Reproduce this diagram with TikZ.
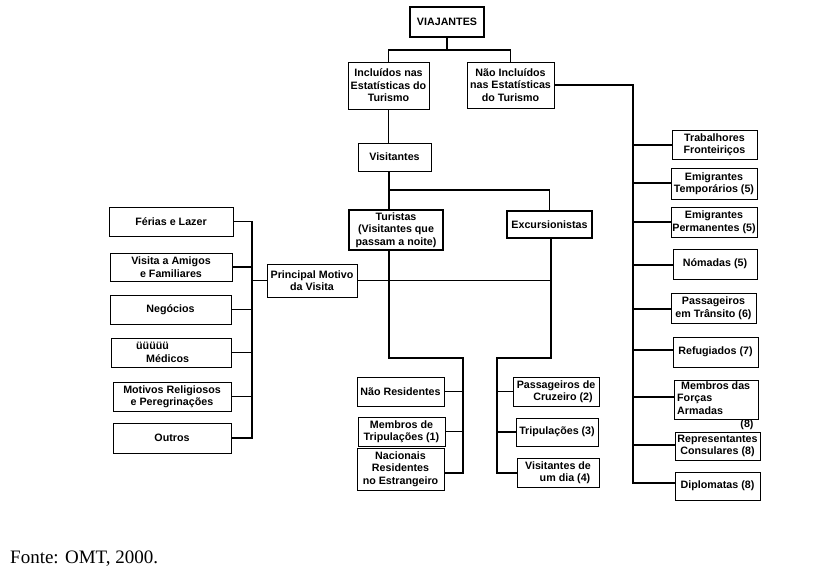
\documentclass[tikz,border=0pt]{standalone}
\usepackage{fontspec}
\setmainfont{Liberation Serif}
\setsansfont{Liberation Sans}
\begin{document}
\begin{tikzpicture}[x=1pt,y=-1pt,
  box/.style={draw=black, line width=1pt, inner sep=0pt, align=center,
    font=\sffamily\bfseries\fontsize{10.7}{12.5}\selectfont},
  thickbox/.style={box, line width=2.6pt},
  conn/.style={draw=black, line width=1.2pt},
  lbl/.style={inner sep=0pt, font=\sffamily\bfseries\fontsize{10.7}{12.5}\selectfont}]
\useasboundingbox[fill=white] (0,0) rectangle (821,584);
% --- top ---
\node[thickbox, minimum width=74pt, minimum height=30pt] (via) at (447,22) {VIAJANTES};
\node[box, minimum width=81pt, minimum height=47pt] (inc) at (388.5,85.5) {Incluídos nas\\Estatísticas do\\Turismo};
\node[box, minimum width=87pt, minimum height=46pt] (nao) at (510.5,85) {Não Incluídos\\nas Estatísticas\\do Turismo};
\node[box, minimum width=73pt, minimum height=28pt] (vis) at (394.5,157) {Visitantes};
\node[thickbox, minimum width=94pt, minimum height=40pt] (tur) at (396,230) {Turistas\\(Visitantes que\\passam a noite)};
\node[thickbox, minimum width=85pt, minimum height=27pt] (exc) at (549.5,224.5) {Excursionistas};
\node[box, minimum width=90pt, minimum height=33pt] (pmv) at (312,280.5) {Principal Motivo\\da Visita};
% --- left column ---
\node[box, minimum width=124pt, minimum height=29pt] (fer) at (171,221.5) {Férias e Lazer};
\node[box, minimum width=122pt, minimum height=28pt] (vam) at (171,267) {Visita a Amigos\\e Familiares};
\node[box, minimum width=121pt, minimum height=29pt] (neg) at (170.5,309.5) {Negócios};
\node[box, minimum width=120pt, minimum height=29pt] (med) at (171,352.5) {};
\node[lbl, align=left, anchor=west] (medt) at (136,352.5) {üüüüü\\\hspace*{10pt}Médicos};
\node[box, minimum width=118pt, minimum height=29pt] (rel) at (172,396.5) {Motivos Religiosos\\e Peregrinações};
\node[box, minimum width=118pt, minimum height=30pt] (out) at (172,438) {Outros};
% --- turistas branch ---
\node[box, minimum width=87pt, minimum height=29pt] (nres) at (400.5,391.5) {Não Residentes};
\node[box, minimum width=87pt, minimum height=29pt] (mtr) at (401.5,431.5) {Membros de\\Tripulações (1)};
\node[box, minimum width=87pt, minimum height=42pt] (nac) at (400.5,469) {Nacionais\\Residentes\\no Estrangeiro};
% --- excursionistas branch ---
\node[box, minimum width=86pt, minimum height=29pt] (pcr) at (556,391.5) {Passageiros de\\\hspace*{14pt}Cruzeiro (2)};
\node[box, minimum width=82pt, minimum height=28pt] (tri) at (557,432) {Tripulações (3)};
\node[box, minimum width=82pt, minimum height=29pt] (vud) at (558,472.5) {Visitantes de\\\hspace*{14pt}um dia (4)};
% --- right column ---
\node[box, minimum width=85pt, minimum height=29pt] (tfr) at (714.5,144.5) {Trabalhores\\Fronteiriços};
\node[box, minimum width=86pt, minimum height=31pt] (etp) at (714,183.5) {Emigrantes\\Temporários (5)};
\node[box, minimum width=86pt, minimum height=30pt] (epe) at (714,222) {Emigrantes\\Permanentes (5)};
\node[box, minimum width=84pt, minimum height=30pt] (nom) at (715,264) {Nómadas (5)};
\node[box, minimum width=85pt, minimum height=30pt] (ptr) at (713.5,308) {Passageiros\\em Trânsito (6)};
\node[box, minimum width=85pt, minimum height=30pt] (ref) at (715.5,352) {Refugiados (7)};
\node[box, minimum width=84pt, minimum height=39pt] (mfa) at (716,399.5) {};
\node[lbl, align=left, anchor=north west] (mfat) at (677,381.5) {\hspace*{4pt}Membros das\\Forças\\Armadas};
\node[lbl] (mfa8) at (747,425) {(8)};
\node[box, minimum width=85pt, minimum height=28pt] (rco) at (717.5,446) {Representantes\\Consulares (8)};
\node[box, minimum width=85pt, minimum height=28pt] (dip) at (717.5,486) {Diplomatas (8)};
% --- source ---
\node[inner sep=0pt, anchor=base west, font=\fontsize{19}{21}\selectfont] (src) at (10,563) {Fonte: OMT, 2000.};
% --- connectors ---
\coordinate (j1) at (447,50);
\draw[conn] (via.south) -- (j1);
\draw[conn] (inc.north) |- (j1) -| (nao.north);
\draw[conn] (inc.south) -- (inc.south |- vis.north);
\coordinate (j2) at (389,190);
\draw[conn] (j2 |- vis.south) -- (j2) -| (exc.north);
\draw[conn] (j2) -- (j2 |- tur.north);
% turistas branch
\coordinate (t1) at (389,358);
\coordinate (t2) at (463,358);
\draw[conn] (t1 |- tur.south) -- (t1) -- (t2) -- (463,473) -- (nac.east |- 0,473);
\draw[conn] (nres.east) -- (nres.east -| t2);
\draw[conn] (mtr.east) -- (mtr.east -| t2);
% excursionistas branch
\coordinate (e1) at (551,358);
\coordinate (e2) at (497,358);
\draw[conn] (exc.south -| e1) -- (e1) -- (e2) -- (497,473) -- (vud.west |- 0,473);
\draw[conn] (pcr.west) -- (pcr.west -| e2);
\draw[conn] (tri.west) -- (tri.west -| e2);
% principal motivo
\draw[conn] (pmv.east) -- (pmv.east -| e1);
\coordinate (m) at (252,280.5);
\draw[conn] (pmv.west) -- (m);
\draw[conn] (fer.east) -- (fer.east -| m) -- (out.east -| m) -- (out.east);
\foreach \b in {vam,neg,med,rel} \draw[conn] (\b.east) -- (\b.east -| m);
% nao incluidos
\coordinate (r) at (633,85);
\draw[conn] (nao.east) -- (r) -- (r |- 0,483) -- (dip.west |- 0,483);
\foreach \b/\yy in {tfr/145,etp/183,epe/222,nom/265,ptr/309,ref/350,mfa/397,rco/445}
  \draw[conn] (r |- 0,\yy) -- (\b.west |- 0,\yy);
\end{tikzpicture}
\end{document}
